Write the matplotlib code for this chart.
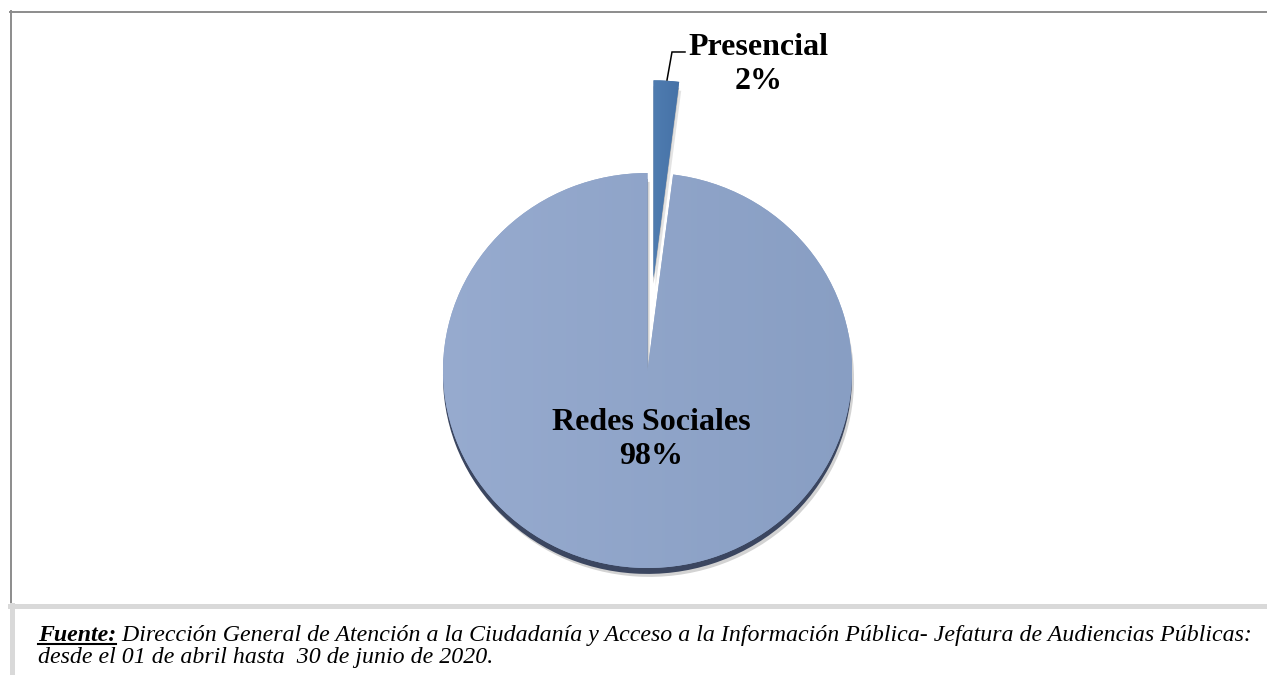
import numpy as np
import matplotlib
matplotlib.use('Agg')
import matplotlib.pyplot as plt
from matplotlib.lines import Line2D

# data
categories = ['Redes Sociales', 'Presencial']
shares = [98, 2]
explode = [0.0, 0.47]
slice_colors = ['#8fa4c8', '#4874a8']
rim_colors = ['#3b4660', '#b5b5b5']

source_label = 'Fuente:'
source_text = (' Dirección General de Atención a la Ciudadanía y Acceso a la Información Pública- '
               'Jefatura de Audiencias Públicas:')
source_line2 = 'desde el 01 de abril hasta  30 de junio de 2020.'

W, H = 1267, 675
fig = plt.figure(figsize=(W / 100, H / 100), dpi=100)
fig.patch.set_facecolor('white')


def fx(px):
    return px / W


def fy(py):
    return 1 - py / H


# pie axes: centre (647.5, 370.5) px, radius 204.5 x 197.5 px
cx, cy, rx, ry = 647.5, 370.5, 204.5, 197.5
ax = fig.add_axes([fx(cx - 1.5 * rx), fy(cy + 1.5 * ry), 3 * rx / W, 3 * ry / H])

# soft shadow + dark rim underneath
ax.pie(shares, explode=explode, startangle=90, colors=['#c8c8c8', '#dddddd'],
       center=(0.01, -0.045), wedgeprops=dict(linewidth=0, alpha=0.8))
ax.pie(shares, explode=explode, startangle=90, colors=rim_colors,
       center=(0.0, -0.03), wedgeprops=dict(linewidth=0))
wedges, _ = ax.pie(shares, explode=explode, startangle=90, colors=slice_colors,
                   wedgeprops=dict(linewidth=0))

# gentle left-to-right gradient on the slices
grad = np.linspace(0, 1, 256).reshape(1, -1)
cmap = matplotlib.colors.LinearSegmentedColormap.from_list('g', ['#97abcf', '#889ec3'])
im = ax.imshow(grad, extent=[-1.05, 1.05, -1.05, 1.05], cmap=cmap, aspect='auto',
               zorder=wedges[0].get_zorder())
im.set_clip_path(wedges[0])
cmap2 = matplotlib.colors.LinearSegmentedColormap.from_list('g2', ['#5582b6', '#3f6ba0'])
im2 = ax.imshow(grad, extent=[-0.05, 0.25, 0.3, 1.55], cmap=cmap2, aspect='auto',
                zorder=wedges[1].get_zorder() + 0.1)
im2.set_clip_path(wedges[1])

ax.set_aspect('auto')
ax.set_xlim(-1.5, 1.5)
ax.set_ylim(-1.5, 1.5)
ax.axis('off')

serif = ['Liberation Serif', 'DejaVu Serif']

# labels
ax.text(0.018, -0.349, '%s\n%d%%' % (categories[0], shares[0]), ha='center', va='center',
        fontsize=23, fontweight='bold', family=serif, linespacing=1.2)
ax.text(0.543, 1.549, '%s\n%d%%' % (categories[1], shares[1]), ha='center', va='center',
        fontsize=23, fontweight='bold', family=serif, linespacing=1.2, clip_on=False)
ax.plot([0.0954, 0.1198, 0.1834], [1.471, 1.6127, 1.6127], color='black', lw=1.1,
        clip_on=False, solid_joinstyle='miter')

# frame lines
fig.add_artist(Line2D([fx(10), fx(W)], [fy(11.8), fy(11.8)], color='#8c8c8c', lw=1.4))
fig.add_artist(Line2D([fx(11), fx(11)], [fy(11), fy(603)], color='#8c8c8c', lw=1.4))
fig.add_artist(Line2D([fx(10), fx(W)], [fy(605.5), fy(605.5)], color='#d9d9d9', lw=3.6))
fig.add_artist(Line2D([fx(11.5), fx(11.5)], [fy(605), fy(H)], color='#d9d9d9', lw=3.6))

# source caption
t1 = fig.text(fx(38), fy(641), source_label, fontsize=17.2, fontweight='bold', style='italic',
              family=serif, va='baseline')
r = fig.canvas.get_renderer()
bb = t1.get_window_extent(r)
fig.text(bb.x1 / W, fy(641), source_text, fontsize=17.2, style='italic', family=serif, va='baseline')
fig.add_artist(Line2D([bb.x0 / W, bb.x1 / W], [fy(644), fy(644)], color='black', lw=1.5))
fig.text(fx(38), fy(663), source_line2, fontsize=17.2, style='italic', family=serif, va='baseline')

fig.savefig('out.png', dpi=100)
